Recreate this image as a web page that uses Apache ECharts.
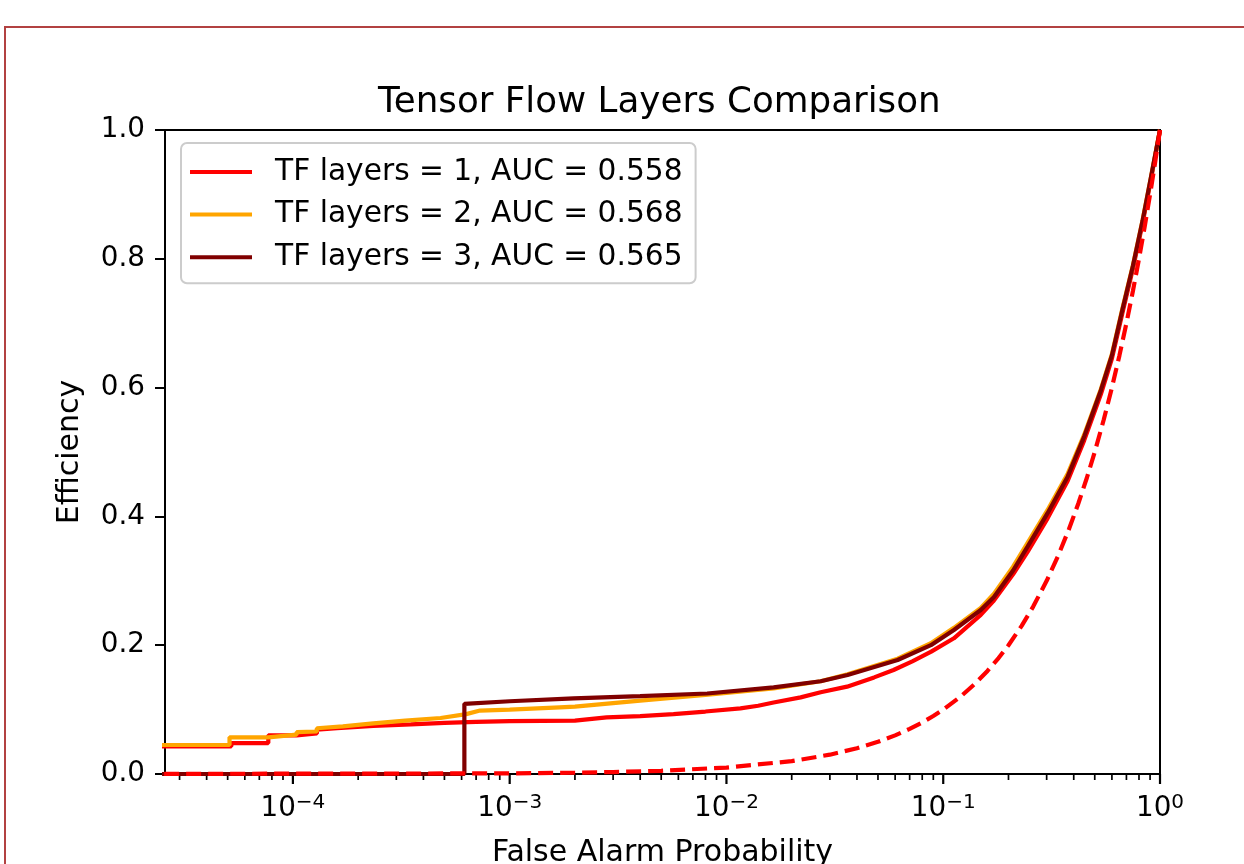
<!DOCTYPE html>
<html>
<head>
<meta charset="utf-8">
<script src="https://cdn.jsdelivr.net/npm/echarts@6/dist/echarts.min.js"></script>
<style>
  html, body { margin: 0; padding: 0; background: #fff; }
  #chart { width: 1244px; height: 864px; }
</style>
</head>
<body>
<div id="chart"></div>
<script>
const FONT = 'DejaVu Sans';

const SERIES_NAMES = ['TF layers = 1, AUC = 0.558', 'TF layers = 2, AUC = 0.568', 'TF layers = 3, AUC = 0.565'];
const SERIES_COLORS = ['#ff0000', '#ffa500', '#800000'];
const X_MAJOR = [1e-4, 1e-3, 1e-2, 1e-1, 1];

// [false alarm probability, efficiency]
const layers1 = [
  [1e-5, 0.043], [5.2e-5, 0.043], [5.2e-5, 0.048], [7.7e-5, 0.048], [7.7e-5, 0.060],
  [1.04e-4, 0.060], [1.04e-4, 0.063], [1.29e-4, 0.063], [1.29e-4, 0.069], [1.6e-4, 0.071],
  [2.35e-4, 0.0745], [3.5e-4, 0.077], [5e-4, 0.0795], [7e-4, 0.081], [1e-3, 0.082],
  [2e-3, 0.083], [2.8e-3, 0.088], [4e-3, 0.090], [5.7e-3, 0.093], [8e-3, 0.097],
  [1.16e-2, 0.102], [1.4e-2, 0.106], [1.65e-2, 0.111], [2.2e-2, 0.119], [2.72e-2, 0.127],
  [3.6e-2, 0.1356], [4.8e-2, 0.150], [5.9e-2, 0.1615], [7.2e-2, 0.175], [8.8e-2, 0.190],
  [0.112, 0.2107], [0.149, 0.247], [0.17, 0.268], [0.21, 0.31], [0.245, 0.345], [0.303, 0.397],
  [0.375, 0.455], [0.447, 0.518], [0.534, 0.59], [0.6, 0.645], [0.67, 0.715], [0.75, 0.785],
  [0.831, 0.855], [0.91, 0.925], [1, 1]
];
const layers2 = [
  [1e-5, 0.045], [5.1e-5, 0.045], [5.1e-5, 0.057], [7.7e-5, 0.057], [7.7e-5, 0.060],
  [1.04e-4, 0.061], [1.04e-4, 0.065], [1.29e-4, 0.066], [1.29e-4, 0.071], [1.7e-4, 0.074],
  [2.35e-4, 0.0787], [3.3e-4, 0.083], [4.8e-4, 0.087], [6.3e-4, 0.093], [7.3e-4, 0.0985],
  [1e-3, 0.100], [1.7e-3, 0.1035], [2e-3, 0.1045], [4e-3, 0.1139], [8e-3, 0.1227],
  [1.65e-2, 0.133], [2.72e-2, 0.144], [3.62e-2, 0.155], [6.16e-2, 0.179], [8.77e-2, 0.203],
  [0.112, 0.227], [0.149, 0.258], [0.1715, 0.28], [0.21, 0.322], [0.245, 0.359], [0.303, 0.41],
  [0.375, 0.466], [0.447, 0.527], [0.534, 0.598], [0.6, 0.652], [0.67, 0.722], [0.75, 0.79],
  [0.831, 0.86], [0.91, 0.928], [1, 1]
];
const layers3 = [
  [1e-5, 0], [6.18e-4, 0], [6.18e-4, 0.109], [1e-3, 0.113], [1.97e-3, 0.1175],
  [4e-3, 0.121], [8.15e-3, 0.125], [1.65e-2, 0.1346], [2.72e-2, 0.144], [3.62e-2, 0.1537],
  [6.16e-2, 0.177], [8.77e-2, 0.200], [0.112, 0.2236], [0.149, 0.2547], [0.1715, 0.275],
  [0.21, 0.316], [0.245, 0.353], [0.303, 0.405], [0.375, 0.4617], [0.447, 0.524], [0.534, 0.596],
  [0.6, 0.65], [0.67, 0.72], [0.75, 0.789], [0.831, 0.859], [0.91, 0.928], [1, 1]
];
// random-guess reference (efficiency equals false alarm probability)
const chance = [
  [1e-5, 1e-5], [1e-3, 1e-3], [2e-3, 2e-3], [3e-3, 3e-3], [5e-3, 5e-3], [0.01, 0.01],
  [0.02, 0.02], [0.03, 0.03], [0.04, 0.04], [0.05, 0.05], [0.06, 0.06], [0.07, 0.07],
  [0.08, 0.08], [0.09, 0.09], [0.1, 0.1], [0.12, 0.12], [0.14, 0.14], [0.16, 0.16],
  [0.18, 0.18], [0.2, 0.2], [0.23, 0.23], [0.26, 0.26], [0.3, 0.3], [0.34, 0.34],
  [0.38, 0.38], [0.42, 0.42], [0.46, 0.46], [0.5, 0.5], [0.55, 0.55], [0.6, 0.6],
  [0.65, 0.65], [0.7, 0.7], [0.75, 0.75], [0.8, 0.8], [0.85, 0.85], [0.9, 0.9],
  [0.95, 0.95], [1, 1]
];

const chart = echarts.init(document.getElementById('chart'), null, { renderer: 'canvas' });

function isPow10(v) {
  const l = Math.log10(v);
  return Math.abs(l - Math.round(l)) < 1e-6;
}

const curveData = [layers1, layers2, layers3];
const series = curveData.map((d, i) => ({
  name: SERIES_NAMES[i],
  type: 'line',
  data: d,
  showSymbol: false,
  symbol: 'none',
  clip: true,
  lineStyle: { color: SERIES_COLORS[i], width: 4.2 },
  itemStyle: { color: SERIES_COLORS[i] },
  animation: false
}));
series.push({
  name: 'chance',
  type: 'line',
  data: chance,
  showSymbol: false,
  symbol: 'none',
  clip: true,
  lineStyle: { color: '#ff0000', width: 4.2, type: [15, 7] },
  animation: false
});

chart.setOption({
  animation: false,
  backgroundColor: '#fff',
  textStyle: { fontFamily: FONT },
  title: {
    text: 'Tensor Flow Layers Comparison',
    left: 378,
    top: 85,
    padding: 0,
    textStyle: { fontFamily: FONT, fontSize: 35.7, fontWeight: 'normal', color: '#000' }
  },
  legend: {
    data: SERIES_NAMES,
    orient: 'vertical',
    left: 181,
    top: 143,
    padding: [13, 13, 10, 9],
    itemGap: 10.6,
    itemWidth: 62,
    itemHeight: 4,
    icon: 'rect',
    backgroundColor: 'rgba(255,255,255,0.8)',
    borderColor: '#cccccc',
    borderWidth: 2,
    borderRadius: 6,
    textStyle: { fontFamily: FONT, fontSize: 29.7, lineHeight: 32, color: '#000', padding: [0, 0, 0, 18] }
  },
  grid: {
    left: 165, right: 84, top: 130, bottom: 90,
    outerBoundsMode: 'none',
    containLabel: false,
    show: true, borderColor: '#000', borderWidth: 2, backgroundColor: 'transparent'
  },
  xAxis: {
    type: 'log',
    logBase: 10,
    min: 2.57e-5,
    max: 1,
    name: 'False Alarm Probability',
    nameLocation: 'middle',
    nameGap: 64,
    nameTextStyle: { fontFamily: FONT, fontSize: 30, color: '#000' },
    axisLine: { show: true, lineStyle: { color: '#000', width: 2 } },
    axisTick: { show: false },
    splitLine: { show: false },
    axisLabel: {
      margin: 19,
      color: '#000',
      formatter: function (v) {
        if (!isPow10(v)) return '';
        const e = Math.round(Math.log10(v));
        return '{a|10}{b|' + (e < 0 ? '\u2212' + (-e) : e) + '}';
      },
      rich: {
        a: { fontFamily: FONT, fontSize: 27.8, lineHeight: 30, padding: [6, 0, 0, 0], verticalAlign: 'bottom', color: '#000' },
        b: { fontFamily: FONT, fontSize: 20, lineHeight: 20, verticalAlign: 'top', color: '#000' }
      }
    }
  },
  yAxis: {
    type: 'value',
    min: 0,
    max: 1,
    interval: 0.2,
    name: 'Efficiency',
    nameLocation: 'middle',
    nameGap: 80,
    nameTextStyle: { fontFamily: FONT, fontSize: 30, color: '#000' },
    axisLine: { show: true, lineStyle: { color: '#000', width: 2 } },
    axisTick: { show: true, inside: false, length: 10, lineStyle: { color: '#000', width: 2 } },
    splitLine: { show: false },
    axisLabel: {
      margin: 20,
      fontFamily: FONT,
      fontSize: 27.8,
      color: '#000',
      formatter: v => v.toFixed(1)
    }
  },
  series: series
});

// tick marks on the log axis, placed through the chart's own scale
const graphics = [{
  type: 'rect',
  shape: { x: 5, y: 27, width: 1320, height: 900 },
  style: { fill: 'none', stroke: '#b24141', lineWidth: 2 },
  silent: true
}];
const yBase = chart.convertToPixel({ yAxisIndex: 0 }, 0);
const minorVals = [];
for (let e = -5; e < 0; e++) {
  for (let k = 2; k <= 9; k++) {
    const v = k * Math.pow(10, e);
    if (v > 2.57e-5 && v < 1) minorVals.push(v);
  }
}
X_MAJOR.forEach(v => {
  const x = chart.convertToPixel({ xAxisIndex: 0 }, v);
  graphics.push({
    type: 'line',
    shape: { x1: x, y1: yBase, x2: x, y2: yBase + 10 },
    style: { stroke: '#000', lineWidth: 2.2 },
    silent: true
  });
});
minorVals.forEach(v => {
  const x = chart.convertToPixel({ xAxisIndex: 0 }, v);
  graphics.push({
    type: 'line',
    shape: { x1: x, y1: yBase, x2: x, y2: yBase + 6 },
    style: { stroke: '#000', lineWidth: 1.7 },
    silent: true
  });
});
chart.setOption({ graphic: graphics });
</script>
</body>
</html>
